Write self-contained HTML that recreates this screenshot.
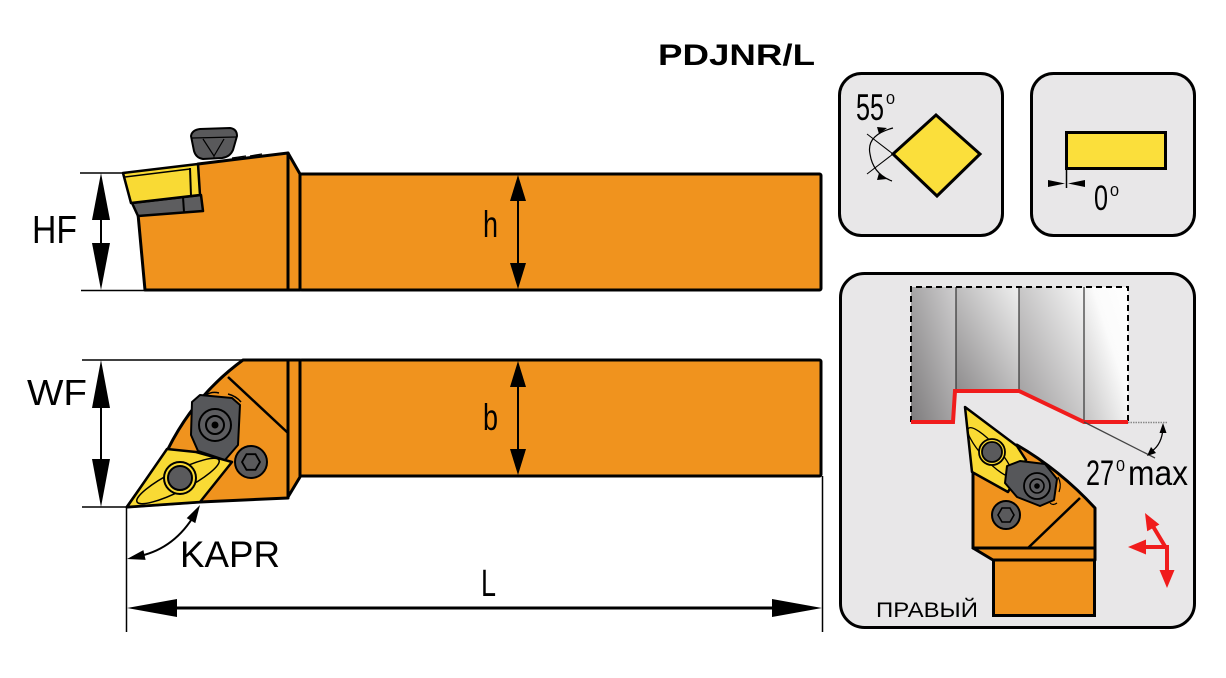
<!DOCTYPE html>
<html><head><meta charset="utf-8">
<style>
html,body{margin:0;padding:0;background:#fff;width:1226px;height:678px;overflow:hidden;}
svg{display:block;}
text{font-family:"Liberation Sans",sans-serif;fill:#000;}
</style></head><body>
<svg width="1226" height="678" viewBox="0 0 1226 678" xmlns="http://www.w3.org/2000/svg">
<defs>
  <linearGradient id="c1" x1="0" y1="1" x2="1" y2="0"><stop offset="0" stop-color="#7e7c7d"/><stop offset="1" stop-color="#cfcecf"/></linearGradient>
  <linearGradient id="c2" x1="0" y1="1" x2="1" y2="0"><stop offset="0" stop-color="#8e8c8d"/><stop offset="1" stop-color="#efefef"/></linearGradient>
  <linearGradient id="c3" x1="0" y1="1" x2="1" y2="0"><stop offset="0" stop-color="#9a9899"/><stop offset="1" stop-color="#f6f6f6"/></linearGradient>
  <linearGradient id="c4" x1="0" y1="1" x2="1" y2="0"><stop offset="0" stop-color="#c4c3c3"/><stop offset="0.6" stop-color="#fbfbfb"/><stop offset="1" stop-color="#ffffff"/></linearGradient>
</defs>

<!-- Title -->
<text x="658" y="65" font-size="30" font-weight="bold" textLength="157" lengthAdjust="spacingAndGlyphs">PDJNR/L</text>

<!-- ============ TOP HOLDER (side view) ============ -->
<rect x="300" y="174" width="521" height="116" fill="#F0931E" stroke="#000" stroke-width="3" rx="1.5"/>
<polygon points="137,203 145,290 288,290 288,153 198,164" fill="#F0931E" stroke="#000" stroke-width="3" stroke-linejoin="round"/>
<polygon points="288,153 300,174 300,290 288,290" fill="#F0931E" stroke="#000" stroke-width="3" stroke-linejoin="round"/>
<!-- shim -->
<polygon points="132,203 201,195 203,211 138,216" fill="#5d5d5f" stroke="#000" stroke-width="2.5" stroke-linejoin="round"/>
<line x1="183" y1="197" x2="184" y2="212" stroke="#000" stroke-width="2"/>
<!-- insert -->
<polygon points="123,173 198,164 200,195 131,203" fill="#F9DA34" stroke="#000" stroke-width="2.5" stroke-linejoin="round"/>
<line x1="125" y1="177" x2="190" y2="169" stroke="#000" stroke-width="1.5"/>
<line x1="190" y1="168" x2="191" y2="196" stroke="#000" stroke-width="2"/>
<!-- top clamp screw -->
<path d="M191,136 Q192,130 200,129 L230,128 Q237,129 237,136 L233,150 Q230,157 222,158 L203,159 Q196,158 194,151 Z" fill="#59595b" stroke="#000" stroke-width="2"/>
<line x1="192" y1="138" x2="236" y2="137" stroke="#000" stroke-width="1.2"/>
<polyline points="203,139 214,156 224,139" fill="none" stroke="#000" stroke-width="1.2"/>
<line x1="214" y1="156" x2="214" y2="159" stroke="#000" stroke-width="1"/>
<path d="M232,158 L246,156 M250,156 L262,154" stroke="#000" stroke-width="1.3" fill="none"/>

<!-- ============ BOTTOM HOLDER (top view) ============ -->
<rect x="300" y="360" width="521" height="116" fill="#F0931E" stroke="#000" stroke-width="3" rx="1.5"/>
<path d="M168,449 Q195,395 243,360 L288,360 L288,498 L200,502 L127,507 Z" fill="#F0931E" stroke="#000" stroke-width="3" stroke-linejoin="round"/>
<polygon points="288,360 300,360 300,477 288,497" fill="#F0931E" stroke="#000" stroke-width="3" stroke-linejoin="round"/>
<line x1="228" y1="377" x2="288" y2="433" stroke="#000" stroke-width="2.5"/>
<!-- insert -->
<polygon points="127,507 167,449 196,452 232,462 200,502" fill="#F9DA34" stroke="#000" stroke-width="2.5" stroke-linejoin="round"/>
<ellipse cx="178" cy="481" rx="46" ry="10" transform="rotate(-27 178 481)" fill="none" stroke="#000" stroke-width="1.5"/>
<circle cx="180" cy="478" r="16" fill="#F9DA34" stroke="#000" stroke-width="2"/>
<circle cx="180" cy="478" r="12" fill="#5a5a5c" stroke="#000" stroke-width="2"/>
<!-- clamp -->
<polygon points="192,402 200,395 232,398 240,405 238,445 225,460 198,451 191,435" fill="#56575a" stroke="#000" stroke-width="2" stroke-linejoin="round"/>
<circle cx="215" cy="425" r="16" fill="#5d5d60" stroke="#000" stroke-width="2"/>
<circle cx="215" cy="425" r="9" fill="none" stroke="#000" stroke-width="2"/>
<circle cx="215" cy="425" r="3.5" fill="#000"/>
<path d="M206,395 Q212,391 219,393 M228,394 Q236,396 241,402" stroke="#000" stroke-width="1.5" fill="none"/>
<!-- screw -->
<circle cx="251" cy="462" r="16" fill="#5a5a5c" stroke="#000" stroke-width="2"/>
<polygon points="260,462 255.5,469.8 246.5,469.8 242,462 246.5,454.2 255.5,454.2" fill="none" stroke="#000" stroke-width="1.8"/>

<!-- ============ DIMENSIONS ============ -->
<g stroke="#000" stroke-width="1.5">
  <line x1="80" y1="173" x2="124" y2="173"/>
  <line x1="81" y1="290.5" x2="145" y2="290.5"/>
  <line x1="82" y1="360" x2="243" y2="360"/>
  <line x1="82" y1="507" x2="127" y2="507"/>
  <line x1="126.5" y1="507" x2="126.5" y2="632"/>
  <line x1="822.5" y1="476" x2="822.5" y2="632"/>
</g>
<g stroke="#000" stroke-width="2">
  <line x1="101" y1="215" x2="101" y2="250"/>
  <line x1="101" y1="400" x2="101" y2="465"/>
  <line x1="518" y1="195" x2="518" y2="270"/>
  <line x1="518" y1="381" x2="518" y2="455"/>
</g>
<line x1="170" y1="608" x2="780" y2="608" stroke="#000" stroke-width="3"/>
<g fill="#000">
  <polygon points="101,173 92,220 110,220"/>
  <polygon points="101,290 92,243 110,243"/>
  <polygon points="101,360 92,408 110,408"/>
  <polygon points="101,507 92,459 110,459"/>
  <polygon points="518,175 510,201 526,201"/>
  <polygon points="518,289 510,263 526,263"/>
  <polygon points="518,361 510,387 526,387"/>
  <polygon points="518,475 510,449 526,449"/>
  <polygon points="127,608 177,599 177,617"/>
  <polygon points="822,608 772,599 772,617"/>
  <polygon points="127,559 145.6,559.9 143.4,550.1"/>
  <polygon points="200,505 195.3,523.1 186.7,518.1"/>
</g>
<path d="M140,556 Q175,548 195,514" fill="none" stroke="#000" stroke-width="2"/>

<text x="32" y="243" font-size="39" textLength="45" lengthAdjust="spacingAndGlyphs">HF</text>
<text x="27" y="405" font-size="36" textLength="60" lengthAdjust="spacingAndGlyphs">WF</text>
<text x="483" y="237" font-size="37" textLength="15" lengthAdjust="spacingAndGlyphs">h</text>
<text x="483" y="430" font-size="37" textLength="15" lengthAdjust="spacingAndGlyphs">b</text>
<text x="180" y="567" font-size="37" textLength="100" lengthAdjust="spacingAndGlyphs">KAPR</text>
<text x="481" y="596" font-size="38" textLength="15" lengthAdjust="spacingAndGlyphs">L</text>

<!-- ============ BOX 1 ============ -->
<rect x="839.5" y="73.5" width="163" height="162" rx="22" fill="#E8E7E8" stroke="#000" stroke-width="3"/>
<polygon points="893,154 936,115 980,154 937,196" fill="#FBDF3B" stroke="#000" stroke-width="3" stroke-linejoin="miter"/>
<line x1="867" y1="134" x2="893" y2="154" stroke="#000" stroke-width="1"/>
<line x1="867" y1="174" x2="893" y2="154" stroke="#000" stroke-width="1"/>
<path d="M893,128 Q866,135 870,154 Q873,174 892,181" fill="none" stroke="#000" stroke-width="1.2"/>
<polygon points="887,128 877,127 879,134" fill="#000"/>
<polygon points="887,179 877,180 879,173" fill="#000"/>
<text x="856" y="120" font-size="37" textLength="28" lengthAdjust="spacingAndGlyphs">55</text>
<text x="886" y="104" font-size="15" textLength="9" lengthAdjust="spacingAndGlyphs">0</text>

<!-- ============ BOX 2 ============ -->
<rect x="1031.5" y="73.5" width="163" height="162" rx="22" fill="#E8E7E8" stroke="#000" stroke-width="3"/>
<rect x="1066.5" y="132.5" width="99" height="36" fill="#FBDF3B" stroke="#000" stroke-width="3"/>
<line x1="1066.5" y1="169" x2="1066.5" y2="188" stroke="#000" stroke-width="1.5"/>
<polygon points="1048,180 1048,187 1065,183.5" fill="#000"/>
<polygon points="1085,180 1085,187 1068,183.5" fill="#000"/>
<text x="1094" y="210" font-size="35" textLength="14" lengthAdjust="spacingAndGlyphs">0</text>
<text x="1110" y="196" font-size="15" textLength="9" lengthAdjust="spacingAndGlyphs">0</text>

<!-- ============ BOX 3 ============ -->
<rect x="840.5" y="273.5" width="354" height="354" rx="24" fill="#E8E7E8" stroke="#000" stroke-width="3"/>
<polygon points="911,287 956,287 956,391 953,422 911,422" fill="url(#c1)"/>
<polygon points="956,287 1019,287 1019,391 956,391" fill="url(#c2)"/>
<polygon points="1019,287 1084,287 1084,422 1019,391" fill="url(#c3)"/>
<polygon points="1084,287 1128,287 1128,422 1084,422" fill="url(#c4)"/>
<g stroke="#333" stroke-width="1.2">
  <line x1="956" y1="287" x2="956" y2="391"/>
  <line x1="1019" y1="287" x2="1019" y2="391"/>
  <line x1="1084" y1="287" x2="1084" y2="422"/>
</g>
<path d="M911,422 L911,287 L1128,287 L1128,422" fill="none" stroke="#000" stroke-width="2" stroke-dasharray="6,4"/>
<polyline points="911,422 953,422 955,391 1019,391 1084,422 1128,422" fill="none" stroke="#F01C1C" stroke-width="4" stroke-linejoin="miter"/>
<line x1="1128" y1="422.5" x2="1168" y2="422.5" stroke="#888" stroke-width="1.5" stroke-dasharray="1.5,1"/>
<line x1="1084" y1="422" x2="1155" y2="458" stroke="#444" stroke-width="1.3"/>
<path d="M1163,428 Q1162,444 1152,451" fill="none" stroke="#000" stroke-width="1.3"/>
<polygon points="1163,423 1159.5,433 1166.5,433" fill="#000"/>
<polygon points="1147,456 1151,447 1156,453" fill="#000"/>
<text x="1086" y="485" font-size="35" textLength="28" lengthAdjust="spacingAndGlyphs">27</text>
<text x="1116" y="471" font-size="16" textLength="9" lengthAdjust="spacingAndGlyphs">0</text>
<text x="1128" y="485" font-size="35" textLength="60" lengthAdjust="spacingAndGlyphs">max</text>

<!-- tool in box 3 -->
<rect x="993.5" y="559.5" width="101" height="56" fill="#F0931E" stroke="#000" stroke-width="3"/>
<polygon points="973,548 1095,548 1095,560 993,560" fill="#F0931E" stroke="#000" stroke-width="3" stroke-linejoin="round"/>
<path d="M973,455 L1017,445 Q1060,470 1095,508 L1095,548 L973,548 Z" fill="#F0931E" stroke="#000" stroke-width="3" stroke-linejoin="round"/>
<line x1="1028" y1="548" x2="1080" y2="498" stroke="#000" stroke-width="2.5"/>
<polygon points="965,407 1017,446 1026,460 1008,492 972,472" fill="#F9DA34" stroke="#000" stroke-width="2.5" stroke-linejoin="round"/>
<ellipse cx="990" cy="452" rx="32" ry="8" transform="rotate(48 990 452)" fill="none" stroke="#000" stroke-width="1.3"/>
<circle cx="992" cy="452" r="13" fill="#F9DA34" stroke="#000" stroke-width="1.8"/>
<circle cx="992" cy="452" r="10" fill="#5a5a5c" stroke="#000" stroke-width="1.8"/>
<polygon points="1007,466 1020,461 1045,464 1057,479 1054,500 1040,506 1017,497 1005,483" fill="#56575a" stroke="#000" stroke-width="2" stroke-linejoin="round"/>
<circle cx="1037" cy="486" r="13" fill="#5d5d60" stroke="#000" stroke-width="1.8"/>
<circle cx="1037" cy="486" r="7" fill="none" stroke="#000" stroke-width="1.6"/>
<circle cx="1037" cy="486" r="2.8" fill="#000"/>
<path d="M1058,477 Q1062,484 1059,492 M1050,503 Q1053,506 1057,503" stroke="#000" stroke-width="1.2" fill="none"/>
<circle cx="1006" cy="515" r="14" fill="#5a5a5c" stroke="#000" stroke-width="2"/>
<polygon points="1014,515 1010,522 1002,522 998,515 1002,508 1010,508" fill="none" stroke="#000" stroke-width="1.6"/>

<!-- red arrows -->
<g stroke="#F01C1C" stroke-width="4" fill="none">
  <line x1="1169" y1="547" x2="1142" y2="547"/>
  <line x1="1167" y1="545" x2="1167" y2="573"/>
  <line x1="1166" y1="548" x2="1151" y2="523"/>
</g>
<g fill="#F01C1C">
  <polygon points="1128,547 1146,539.5 1146,554.5"/>
  <polygon points="1167,588 1159.5,570 1174.5,570"/>
  <polygon points="1145,513 1159.4,524.5 1147.2,531.3"/>
</g>

<text x="876" y="617" font-size="21" textLength="102" lengthAdjust="spacingAndGlyphs">ПРАВЫЙ</text>
</svg>
</body></html>
